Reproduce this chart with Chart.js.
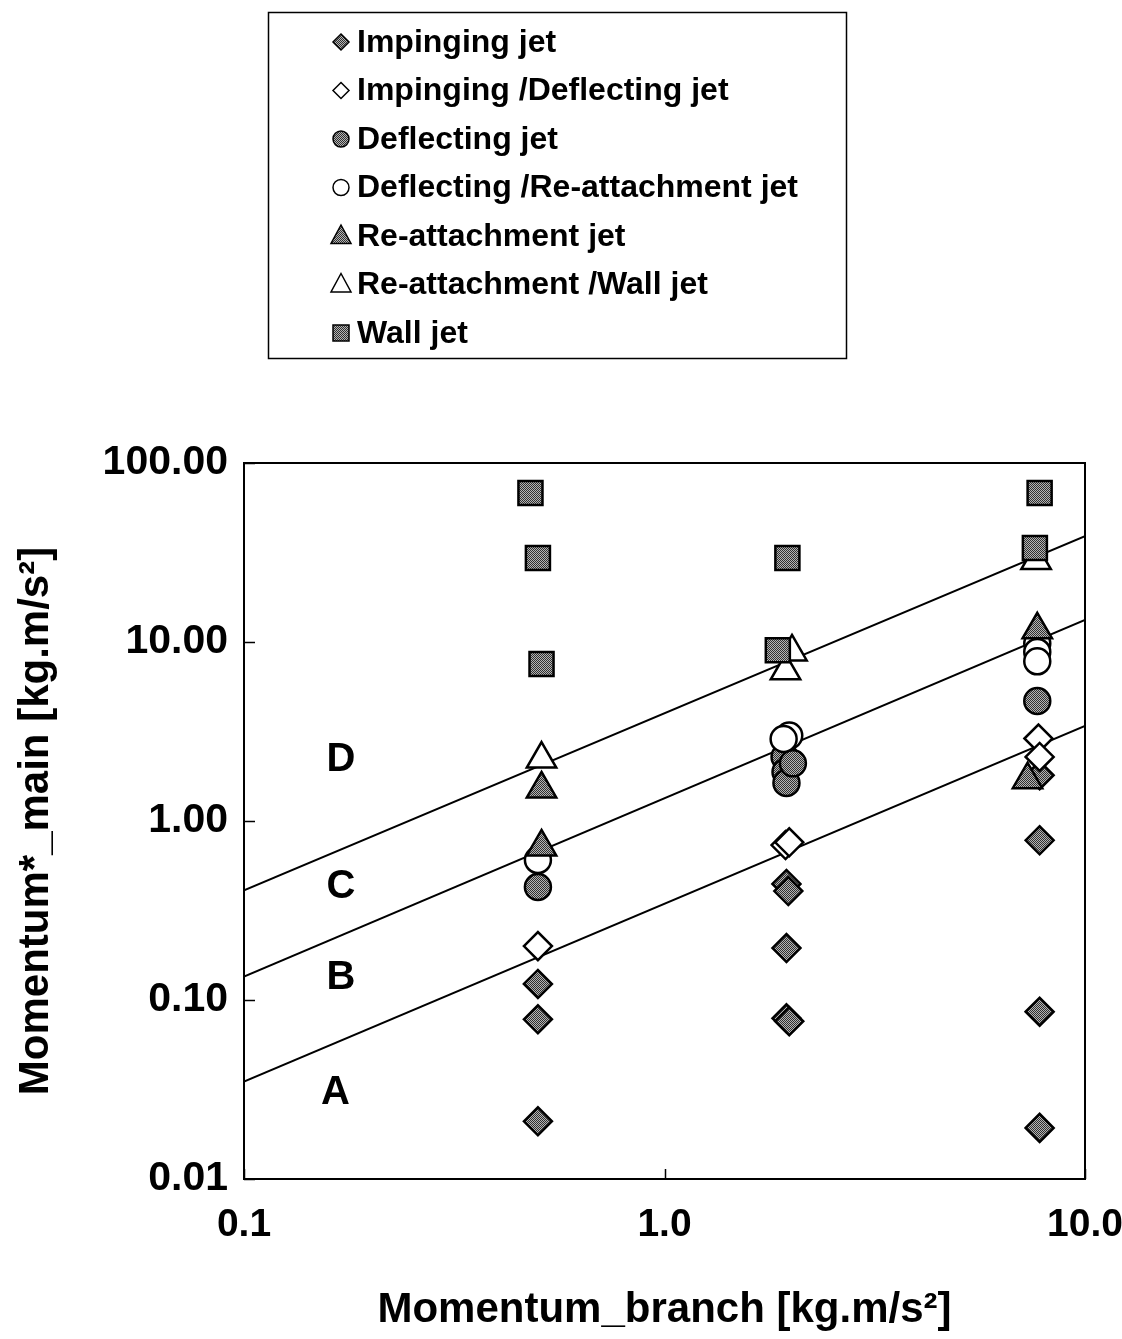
<!DOCTYPE html>
<html>
<head>
<meta charset="utf-8">
<title>Jet regimes</title>
<script src="https://cdn.jsdelivr.net/npm/chart.js@4.4.1/dist/chart.umd.min.js"></script>
<style>
  html, body { margin: 0; padding: 0; background: #fff; }
  canvas { display: block; }
</style>
</head>
<body>
<canvas id="jetChart" width="1122" height="1339"></canvas>
<script>
// values (x = branch momentum, y = main momentum)
const impingingX = [0.5, 0.5, 0.5, 1.95, 1.97, 1.95, 1.95, 1.98, 7.8, 7.8, 7.8, 7.8];
const impingingY = [0.123, 0.078, 0.021, 0.445, 0.406, 0.195, 0.079, 0.076, 1.8, 0.78, 0.086, 0.0193];

const impDeflX = [0.5, 1.94, 1.98, 7.75, 7.8];
const impDeflY = [0.2, 0.734, 0.76, 2.89, 2.28];

const deflX = [0.5, 1.93, 1.94, 1.95, 2.02, 7.7];
const deflY = [0.428, 2.28, 1.88, 1.63, 2.1, 4.68];

const deflReX = [0.5, 1.98, 1.92, 7.7, 7.7, 7.7];
const deflReY = [0.605, 3.0, 2.87, 9.8, 8.8, 7.8];

const reattX = [0.51, 0.51, 7.7, 7.3];
const reattY = [1.51, 0.716, 11.7, 1.7];

const reWallX = [0.51, 2.01, 1.94, 7.65];
const reWallY = [2.22, 8.8, 6.9, 28.5];

const wallX = [0.48, 0.5, 0.51, 1.96, 1.86, 7.8, 7.6];
const wallY = [68, 29.5, 7.54, 29.5, 9.0, 68, 33.5];

// regime boundaries, y at x = 0.1 and x = 10
const lineX = [0.1, 10];
const boundaryDC = [0.41, 39];
const boundaryCB = [0.135, 13.3];
const boundaryBA = [0.035, 3.4];

const zoneLabels = ['A', 'B', 'C', 'D'];
const zoneX = [0.165, 0.17, 0.17, 0.17];
const zoneY = [0.0302, 0.133, 0.428, 2.19];

const xTicks = [0.1, 1, 10];
const xTickLabels = ['0.1', '1.0', '10.0'];
const yTicks = [0.01, 0.1, 1, 10, 100];
const yTickLabels = ['0.01', '0.10', '1.00', '10.00', '100.00'];

const FONT = '"Liberation Sans", Arial, sans-serif';

// halftone grey like the printed markers
function makeHatch() {
  const c = document.createElement('canvas');
  c.width = 2; c.height = 2;
  const g = c.getContext('2d');
  g.fillStyle = '#b4b4b4';
  g.fillRect(0, 0, 2, 2);
  g.fillStyle = '#303030';
  g.fillRect(0, 0, 1, 1);
  g.fillRect(1, 1, 1, 1);
  return g.createPattern(c, 'repeat');
}
const hatch = makeHatch();

const series = [
  { label: 'Impinging jet', xs: impingingX, ys: impingingY, style: 'rectRot', r: 14, fill: hatch },
  { label: 'Impinging /Deflecting jet', xs: impDeflX, ys: impDeflY, style: 'rectRot', r: 14, fill: '#fff' },
  { label: 'Deflecting jet', xs: deflX, ys: deflY, style: 'circle', r: 13, fill: hatch },
  { label: 'Deflecting /Re-attachment jet', xs: deflReX, ys: deflReY, style: 'circle', r: 13, fill: '#fff' },
  { label: 'Re-attachment jet', xs: reattX, ys: reattY, style: 'triangle', r: 17, fill: hatch },
  { label: 'Re-attachment /Wall jet', xs: reWallX, ys: reWallY, style: 'triangle', r: 17, fill: '#fff' },
  { label: 'Wall jet', xs: wallX, ys: wallY, style: 'rect', r: 17, fill: hatch }
];

const pointSets = series.map((s, i) => ({
  label: s.label,
  data: s.xs.map((x, k) => ({ x: x, y: s.ys[k] })),
  pointStyle: s.style,
  pointRadius: s.r,
  pointHoverRadius: s.r,
  backgroundColor: s.fill,
  borderColor: '#000',
  borderWidth: 2.5,
  showLine: false,
  order: 20 - i
}));

const lineSets = [boundaryDC, boundaryCB, boundaryBA].map(ys => ({
  label: '',
  data: lineX.map((x, k) => ({ x: x, y: ys[k] })),
  showLine: true,
  pointRadius: 0,
  borderColor: '#000',
  borderWidth: 2,
  fill: false,
  order: 50
}));

function drawMarker(ctx, style, x, y, r) {
  ctx.beginPath();
  if (style === 'rectRot') {
    ctx.moveTo(x, y - r); ctx.lineTo(x + r, y); ctx.lineTo(x, y + r); ctx.lineTo(x - r, y);
  } else if (style === 'rect') {
    ctx.rect(x - r, y - r, 2 * r, 2 * r);
  } else if (style === 'circle') {
    ctx.arc(x, y, r, 0, Math.PI * 2);
  } else {
    ctx.moveTo(x, y - r * 1.1); ctx.lineTo(x + r, y + r * 0.75); ctx.lineTo(x - r, y + r * 0.75);
  }
  ctx.closePath();
  ctx.fill();
  ctx.stroke();
}

const frameAndNotes = {
  id: 'frameAndNotes',
  afterDatasetsDraw(chart) {
    const { ctx, chartArea: a, scales } = chart;
    ctx.save();
    ctx.strokeStyle = '#000';
    ctx.lineWidth = 2;
    ctx.strokeRect(a.left, a.top, a.right - a.left, a.bottom - a.top);
    ctx.beginPath();
    yTicks.forEach(v => {
      const py = Math.round(scales.y.getPixelForValue(v)) + 0.5;
      ctx.moveTo(a.left, py); ctx.lineTo(a.left + 11, py);
    });
    xTicks.forEach(v => {
      const px = Math.round(scales.x.getPixelForValue(v)) + 0.5;
      ctx.moveTo(px, a.bottom); ctx.lineTo(px, a.bottom - 10);
    });
    ctx.lineWidth = 1.5;
    ctx.stroke();

    ctx.fillStyle = '#000';
    ctx.font = 'bold 40px ' + FONT;
    ctx.textAlign = 'center';
    ctx.textBaseline = 'middle';
    zoneLabels.forEach((t, i) => {
      ctx.fillText(t, scales.x.getPixelForValue(zoneX[i]), scales.y.getPixelForValue(zoneY[i]));
    });
    ctx.restore();
  },
  afterDraw(chart) {
    const ctx = chart.ctx;
    ctx.save();
    ctx.strokeStyle = '#000';
    ctx.lineWidth = 1.5;
    ctx.strokeRect(268.5, 12.5, 578, 346);
    ctx.font = 'bold 32px ' + FONT;
    ctx.textAlign = 'left';
    ctx.textBaseline = 'middle';
    series.forEach((s, i) => {
      const yc = 42 + i * 48.5;
      ctx.fillStyle = s.fill;
      ctx.lineWidth = 1.5;
      drawMarker(ctx, s.style, 341, yc, s.style === 'triangle' ? 10 : 8);
      ctx.fillStyle = '#000';
      ctx.fillText(s.label, 357, yc + 1);
    });
    ctx.restore();
  }
};

new Chart(document.getElementById('jetChart').getContext('2d'), {
  type: 'scatter',
  data: { datasets: pointSets.concat(lineSets) },
  options: {
    responsive: false,
    animation: false,
    devicePixelRatio: 1,
    layout: { padding: { top: 463, right: 37, left: 0, bottom: 0 } },
    plugins: {
      legend: { display: false },
      tooltip: { enabled: false }
    },
    scales: {
      x: {
        type: 'logarithmic',
        min: 0.1,
        max: 10,
        grid: { display: false, drawTicks: false },
        border: { display: false },
        afterBuildTicks: s => { s.ticks = xTicks.map(v => ({ value: v })); },
        afterFit: s => { s.height = 160; s.paddingLeft = 0; s.paddingRight = 0; },
        ticks: {
          padding: 23,
          maxRotation: 0,
          autoSkip: false,
          color: '#000',
          font: { family: FONT, size: 39, weight: 'bold' },
          callback: v => xTickLabels[xTicks.indexOf(v)]
        },
        title: {
          display: true,
          text: 'Momentum_branch [kg.m/s²]',
          color: '#000',
          padding: { top: 0, bottom: 3 },
          font: { family: FONT, size: 42, weight: 'bold' }
        }
      },
      y: {
        type: 'logarithmic',
        min: 0.01,
        max: 100,
        grid: { display: false, drawTicks: false },
        border: { display: false },
        afterBuildTicks: s => { s.ticks = yTicks.map(v => ({ value: v })); },
        afterFit: s => { s.width = 244; s.paddingTop = 0; s.paddingBottom = 0; },
        ticks: {
          padding: 16,
          autoSkip: false,
          color: '#000',
          font: { family: FONT, size: 41, weight: 'bold' },
          callback: v => yTickLabels[yTicks.indexOf(v)]
        },
        title: {
          display: true,
          text: 'Momentum*_main [kg.m/s²]',
          color: '#000',
          padding: { top: 11, bottom: 0 },
          font: { family: FONT, size: 42, weight: 'bold' }
        }
      }
    }
  },
  plugins: [frameAndNotes]
});
</script>
</body>
</html>
